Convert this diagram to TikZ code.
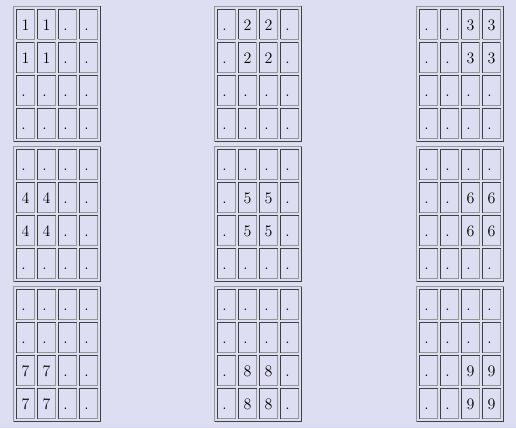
\documentclass[tikz,border=0pt]{standalone}
\definecolor{pagebg}{RGB}{222,222,242}
\definecolor{liteedge}{RGB}{150,150,150}
\definecolor{darkedge}{RGB}{64,64,64}
\tikzset{
  lite/.style={line width=0.75pt,color=liteedge},
  dark/.style={line width=0.75pt,color=darkedge},
  celltext/.style={anchor=base,inner sep=0pt,font=\fontsize{12}{14}\selectfont}
}
\begin{document}
\begin{tikzpicture}[x=0.75pt,y=-0.75pt]
\fill[pagebg](0,0) rectangle (516,428);
\useasboundingbox (0,0) rectangle (516,428);
\foreach \k in {1,...,9}{
  \pgfmathtruncatemacro\gr{(\k-1)/3}
  \pgfmathtruncatemacro\gc{mod(\k-1,3)}
  \pgfmathsetmacro\tx{{13,214,416}[\gc]}
  \pgfmathsetmacro\ty{6+140*\gr}
  % table frame
  \draw[lite](\tx+0.5,\ty+135.5)--(\tx+0.5,\ty+0.5)--(\tx+87.5,\ty+0.5);
  \draw[dark](\tx+87.5,\ty+0.5)--(\tx+87.5,\ty+135.5)--(\tx+0.5,\ty+135.5);
  \foreach \i in {0,...,3}{
    \foreach \j in {0,...,3}{
      \pgfmathsetmacro\cx{\tx+3+21*\j}
      \pgfmathsetmacro\cy{\ty+3+33*\i}
      % cell frame
      \draw[dark](\cx+0.5,\cy+30.5)--(\cx+0.5,\cy+0.5)--(\cx+18.5,\cy+0.5);
      \draw[lite](\cx+18.5,\cy+0.5)--(\cx+18.5,\cy+30.5)--(\cx+0.5,\cy+30.5);
      \pgfmathtruncatemacro\on{and(and(\i>=\gr,\i<=\gr+1),and(\j>=\gc,\j<=\gc+1))}
      \ifnum\on=1
        \node[celltext] (c\k-\i-\j) at (\cx+9.5,\cy+21.7) {\k};
      \else
        \node[celltext] (c\k-\i-\j) at (\cx+7.5,\cy+21.7) {.};
      \fi
    }
  }
}
\end{tikzpicture}
\end{document}
